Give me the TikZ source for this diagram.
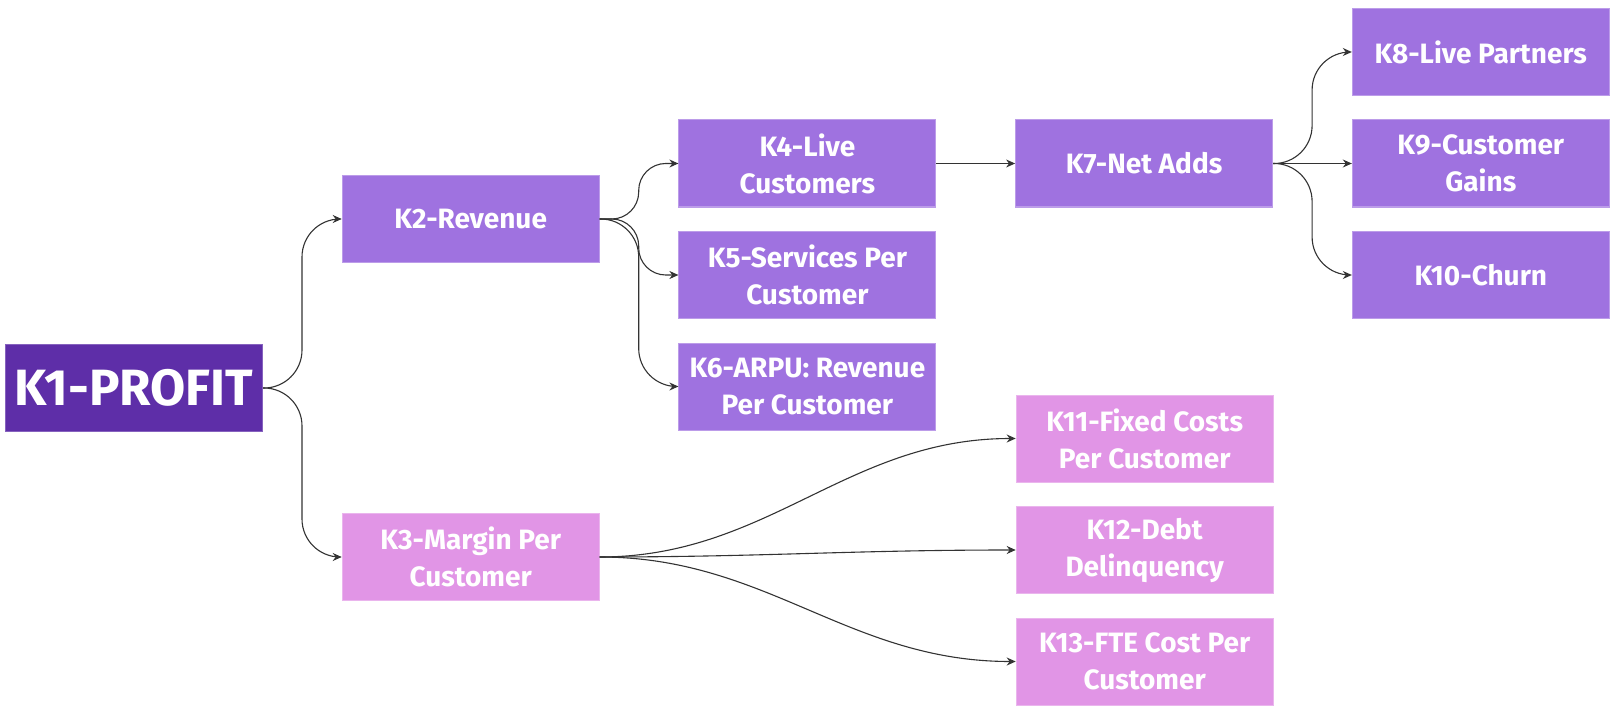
\documentclass[tikz,border=0pt]{standalone}
\usepackage{fontspec}
\setmainfont{Fira Sans}
\usepackage{xcolor}
\usepackage{tikz}
\usetikzlibrary{positioning,arrows.meta}

\definecolor{kpidark}{HTML}{5E2EA8}
\definecolor{kpimid}{HTML}{9F72E0}
\definecolor{kpipink}{HTML}{E195E6}

\begin{document}
\begin{tikzpicture}[
  x=1pt, y=-1pt,
  node distance=23.5pt and 78.7pt,
  every node/.style={font=\fontsize{28}{37}\selectfont\bfseries, text=white},
  box/.style={draw, line width=1pt, align=center, inner sep=2pt, minimum width=257pt, minimum height=87pt},
  root/.style={box, fill=kpidark, draw=kpidark!75!white, font=\fontsize{51}{54}\selectfont\bfseries},
  rev/.style={box, fill=kpimid, draw=kpimid!70!white},
  cost/.style={box, fill=kpipink, draw=kpipink!70!white},
  link/.style={-{Stealth[length=9pt,width=8pt]}, line width=1.1pt, draw=black!80},
  elbow/.style={link, rounded corners=#1},
  elbow/.default=38pt
]
\useasboundingbox (0,0) rectangle (1616,714);

\node[root] (k1) at (134,388) {K1-PROFIT};
\node[rev, right=of k1, yshift=169pt] (k2) {K2-Revenue};
\node[cost, right=of k1, yshift=-169pt] (k3) {K3-Margin Per\\Customer};

\node[rev, right=of k2, yshift=55.5pt] (k4) {K4-Live\\Customers};
\node[rev, below=of k4] (k5) {K5-Services Per\\Customer};
\node[rev, below=of k5] (k6) {K6-ARPU: Revenue\\Per Customer};

\node[rev, right=of k4] (k7) {K7-Net Adds};
\node[rev, right=of k7] (k9) {K9-Customer\\Gains};
\node[rev, above=of k9] (k8) {K8-Live Partners};
\node[rev, below=of k9] (k10) {K10-Churn};

\node[cost, right=416pt of k3, yshift=7pt] (k12) {K12-Debt\\Delinquency};
\node[cost, above=of k12] (k11) {K11-Fixed Costs\\Per Customer};
\node[cost, below=of k12] (k13) {K13-FTE Cost Per\\Customer};

% profit tree
\draw[elbow] (k1.east) -- ++(39,0) |- (k2.west);
\draw[elbow] (k1.east) -- ++(39,0) |- (k3.west);

% revenue branch
\draw[elbow=27pt] (k2.east) -- ++(39,0) |- (k4.west);
\draw[elbow=27pt] (k2.east) -- ++(39,0) |- (k5.west);
\draw[elbow] (k2.east) -- ++(39,0) |- (k6.west);
\draw[link] (k4) -- (k7);
\draw[elbow] (k7.east) -- ++(39,0) |- (k8.west);
\draw[link] (k7) -- (k9);
\draw[elbow] (k7.east) -- ++(39,0) |- (k10.west);

% margin branch
\draw[link] (k3.east) to[out=0, in=180] (k11.west);
\draw[link] (k3.east) to[out=0, in=180] (k12.west);
\draw[link] (k3.east) to[out=0, in=180] (k13.west);
\end{tikzpicture}
\end{document}
